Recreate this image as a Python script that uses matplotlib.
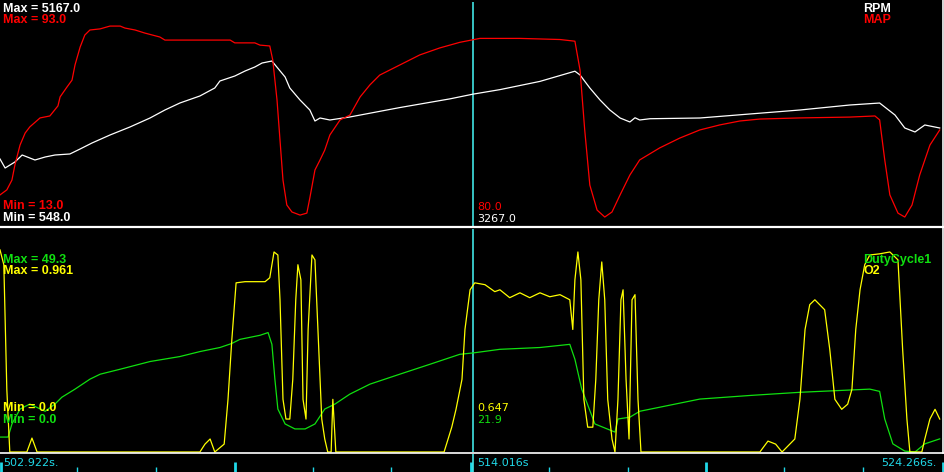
import matplotlib
matplotlib.use("Agg")
import matplotlib.pyplot as plt

# datalog window
t0 = 502.922
t_cursor = 514.016
t_left_label = "502.922s."
t_cursor_label = "514.016s"
t_right_label = "524.266s."
span = 22.08          # seconds shown across the plot

# top panel: RPM (white) / MAP (red)
rpm_min, rpm_max = 548.0, 5167.0
map_min, map_max = 13.0, 93.0
rpm_cursor, map_cursor = 3267.0, 80.0

rpm_t = [0.00, 0.12, 0.35, 0.52, 0.82, 1.06, 1.29, 1.64, 1.88, 2.16, 2.58, 3.05, 3.52,
         3.87, 4.22, 4.69, 5.04, 5.16, 5.51, 5.75, 5.98, 6.15, 6.38, 6.69, 6.80, 7.04,
         7.27, 7.39, 7.51, 7.74, 8.21, 9.38, 10.56, 11.10, 11.73, 12.67, 13.49, 13.61,
         13.84, 14.08, 14.31, 14.55, 14.78, 14.90, 15.01, 15.25, 16.42, 17.60, 18.77,
         19.94, 20.64, 21.00, 21.23, 21.47, 21.70, 22.05]
rpm_v = [1930, 1744, 1868, 2012, 1909, 1971, 2012, 2033, 2136, 2260, 2424, 2590, 2775,
         2940, 3084, 3229, 3394, 3538, 3641, 3744, 3827, 3909, 3950, 3620, 3394, 3146,
         2940, 2713, 2775, 2734, 2796, 2990, 3170, 3267, 3360, 3530, 3740, 3662,
         3394, 3146, 2940, 2775, 2693, 2780, 2734, 2760, 2775, 2858, 2940,
         3043, 3084, 2837, 2569, 2487, 2631, 2569]

map_t = [0.00, 0.16, 0.28, 0.35, 0.47, 0.59, 0.70, 0.94, 1.17, 1.36, 1.41, 1.57, 1.69,
         1.76, 1.88, 1.99, 2.11, 2.35, 2.58, 2.82, 2.93, 3.17, 3.40, 3.75, 3.87, 5.40,
         5.51, 5.98, 6.10, 6.33, 6.40, 6.50, 6.57, 6.64, 6.73, 6.85, 7.04, 7.20, 7.27,
         7.39, 7.51, 7.62, 7.74, 7.98, 8.21, 8.45, 8.68, 8.91, 9.38, 9.85, 10.32, 10.79,
         11.26, 12.20, 13.14, 13.49, 13.61, 13.72, 13.84, 14.01, 14.19, 14.36, 14.55,
         14.78, 15.01, 15.48, 15.95, 16.42, 16.89, 17.36, 17.83, 18.77, 19.94, 20.53,
         20.64, 20.76, 20.88, 21.07, 21.23, 21.40, 21.58, 21.82, 22.05]
map_v = [24.1, 25.9, 29.4, 34.8, 41.9, 46.2, 48.4, 51.6, 52.3, 55.9, 59.1, 62.6, 65.1,
         70.5, 76.9, 81.2, 83.0, 83.4, 84.4, 84.4, 83.7, 83.0, 81.9, 80.5, 79.4, 79.4,
         78.4, 78.4, 77.6, 77.3, 72.3, 58.0, 43.7, 29.4, 20.5, 18.0, 16.9, 17.6, 23.0,
         33.0, 36.6, 40.1, 45.5, 50.9, 52.6, 59.1, 63.4, 66.9, 70.5, 74.1, 76.6, 78.6,
         80.0, 80.0, 79.6, 79.0, 68.7, 47.3, 27.6, 18.7, 16.2, 18.0, 24.1,
         31.2, 36.6, 40.9, 44.4, 47.3, 49.1, 50.5, 51.2, 51.6, 51.9, 52.3,
         50.9, 36.6, 24.1, 17.6, 16.2, 20.5, 31.2, 41.9, 47.3]

# bottom panel: DutyCycle1 (green) / O2 (yellow)
duty_min, duty_max = 0.0, 49.3
o2_min, o2_max = 0.0, 0.961
duty_cursor, o2_cursor = 21.9, 0.647

duty_t = [0.00, 0.19, 0.28, 0.47, 0.70, 1.06, 1.29, 1.45, 1.76, 2.11, 2.35, 2.82, 3.52,
          4.22, 4.69, 5.16, 5.44, 5.63, 6.10, 6.29, 6.38, 6.45, 6.52, 6.69, 6.92, 7.16,
          7.39, 7.62, 7.86, 8.21, 8.68, 9.38, 10.09, 10.79, 11.10, 11.73, 12.67, 13.37,
          13.49, 13.65, 13.96, 14.43, 14.50, 14.78, 15.01, 15.48, 16.42, 17.60, 18.77,
          20.41, 20.64, 20.76, 20.95, 21.23, 21.47, 21.70, 22.05]
duty_v = [3.3, 3.3, 6.2, 9.5, 10.6, 9.0, 10.6, 12.1, 13.9, 16.1, 17.2, 18.3, 20.0,
          21.1, 22.2, 23.1, 24.0, 24.9, 25.8, 26.4, 23.8, 16.1, 9.5, 6.2, 5.1, 5.1,
          6.2, 9.5, 10.6, 12.8, 15.0, 17.2, 19.4, 21.6, 21.9, 22.7, 23.1, 23.8,
          20.5, 13.9, 6.2, 4.4, 7.3, 7.7, 9.0, 9.9, 11.7, 12.5, 13.2,
          13.9, 13.4, 7.3, 1.8, 0.2, 0.0, 1.8, 2.9]

o2_t = [0.00, 0.09, 0.16, 0.23, 0.63, 0.75, 0.87, 4.69, 4.81, 4.93, 5.04, 5.26, 5.35,
        5.44, 5.54, 5.75, 6.22, 6.33, 6.43, 6.52, 6.57, 6.64, 6.71, 6.80, 6.87, 6.94,
        6.99, 7.06, 7.11, 7.18, 7.23, 7.32, 7.39, 7.46, 7.55, 7.62, 7.69, 7.77, 7.81,
        7.88, 10.42, 10.60, 10.70, 10.84, 10.91, 11.03, 11.14, 11.38, 11.61, 11.73,
        11.96, 12.20, 12.43, 12.67, 12.90, 13.14, 13.37, 13.44, 13.49, 13.56, 13.63,
        13.70, 13.79, 13.91, 13.98, 14.05, 14.12, 14.19, 14.26, 14.36, 14.43, 14.50,
        14.57, 14.62, 14.69, 14.76, 14.83, 14.90, 14.97, 15.04, 17.83, 18.02, 18.20,
        18.35, 18.65, 18.77, 18.89, 19.00, 19.12, 19.35, 19.47, 19.59, 19.75, 19.89,
        19.99, 20.08, 20.18, 20.29, 20.41, 20.64, 20.88, 21.07, 21.18, 21.28, 21.35,
        21.63, 21.70, 21.82, 21.94, 22.05]
o2_v = [0.871, 0.807, 0.270, 0.0, 0.0, 0.060, 0.0, 0.0, 0.034, 0.056, 0.0, 0.034, 0.227,
        0.485, 0.729, 0.734, 0.734, 0.751, 0.862, 0.849, 0.656, 0.227, 0.142, 0.142, 0.313, 0.656,
        0.807, 0.742, 0.227, 0.142, 0.528, 0.849, 0.828, 0.528, 0.142, 0.056, 0.0, 0.0, 0.227,
        0.0, 0.0, 0.107, 0.184, 0.313, 0.528, 0.699, 0.729, 0.721, 0.691, 0.699,
        0.665, 0.686, 0.665, 0.686, 0.669, 0.678, 0.656, 0.528, 0.742, 0.862, 0.742,
        0.227, 0.107, 0.107, 0.313, 0.656, 0.819, 0.656, 0.227, 0.056, 0.0, 0.227,
        0.656, 0.699, 0.313, 0.056, 0.656, 0.678, 0.227, 0.0, 0.0, 0.047, 0.034,
        0.0, 0.056, 0.227, 0.528, 0.635, 0.656, 0.613, 0.442, 0.227, 0.184, 0.206,
        0.270, 0.528, 0.699, 0.807, 0.849, 0.854, 0.862, 0.828, 0.442, 0.142, 0.0,
        0.0, 0.056, 0.142, 0.184, 0.142]

# time ruler ticks (seconds from t0)
major_ticks = [0.02, 5.51, 11.05, 16.56, 22.12]
minor_ticks = [1.81, 3.66, 7.34, 9.17, 12.88, 14.73, 18.39, 20.25]

RED = '#ff0000'
WHITE = '#ffffff'
GREEN = '#10e010'
YELLOW = '#ffff00'
CYAN = '#20d8e8'
CURSOR = '#40e4e4'

W, H = 944, 472
fig = plt.figure(figsize=(W / 100, H / 100), dpi=100, facecolor='black')


def px_axes(x0, y0, x1, y1):
    ax = fig.add_axes([x0 / W, 1 - y1 / H, (x1 - x0) / W, (y1 - y0) / H])
    ax.set_facecolor('black')
    ax.set_axis_off()
    return ax


tt = lambda rel: [t0 + r for r in rel]

# top panel
ax_rpm = px_axes(0, 2, 941, 226)
ax_rpm.set_xlim(t0, t0 + span)
ax_rpm.set_ylim(rpm_min, rpm_max)
ax_rpm.axvline(t_cursor, color=CURSOR, lw=1.2)
ax_map = ax_rpm.twinx()
ax_map.set_axis_off()
ax_map.set_ylim(map_min, map_max)
ax_rpm.plot(tt(rpm_t), rpm_v, color=WHITE, lw=0.9)
ax_map.plot(tt(map_t), map_v, color=RED, lw=0.9)

# bottom panel
ax_duty = px_axes(0, 229, 941, 452)
ax_duty.set_xlim(t0, t0 + span)
ax_duty.set_ylim(duty_min, duty_max)
ax_duty.axvline(t_cursor, color=CURSOR, lw=1.2)
ax_o2 = ax_duty.twinx()
ax_o2.set_axis_off()
ax_o2.set_ylim(o2_min, o2_max)
ax_duty.plot(tt(duty_t), duty_v, color=GREEN, lw=0.9, clip_on=False)
ax_o2.plot(tt(o2_t), o2_v, color=YELLOW, lw=0.9, clip_on=False)

# time ruler
ax_time = px_axes(0, 454, 944, 472)
ax_time.set_xlim(t0, t0 + span * 944 / 941)
ax_time.set_ylim(0, 18)
ax_time.vlines(tt(major_ticks), 0, 10, color=CYAN, lw=2)
ax_time.vlines(tt(minor_ticks), 0, 5, color=CYAN, lw=1)
ax_time.axvline(t_cursor, color=CURSOR, lw=1.2)

# overlay in pixel coordinates for frame lines and labels
ov = px_axes(0, 0, W, H)
ov.set_facecolor('none')
ov.set_xlim(0, W)
ov.set_ylim(H, 0)
ov.plot([0, W], [227, 227], color=WHITE, lw=1.6)
ov.plot([0, W], [453, 453], color=WHITE, lw=1.2)
ov.plot([942.5, 942.5], [0, 453], color=WHITE, lw=1.2)

bold = dict(family='Liberation Sans', fontsize=9, fontweight='bold', va='baseline')
thin = dict(family='DejaVu Sans', fontsize=8, va='baseline')

ov.text(3, 12, f"Max = {rpm_max:.1f}", color=WHITE, **bold)
ov.text(3, 23, f"Max = {map_max:.1f}", color=RED, **bold)
ov.text(3, 209, f"Min = {map_min:.1f}", color=RED, **bold)
ov.text(3, 221, f"Min = {rpm_min:.1f}", color=WHITE, **bold)
ov.text(863, 12, "RPM", color=WHITE, **bold)
ov.text(863, 23, "MAP", color=RED, **bold)

ov.text(3, 263, f"Max = {duty_max:.1f}", color=GREEN, **bold)
ov.text(3, 274, f"Max = {o2_max:.3f}", color=YELLOW, **bold)
ov.text(3, 411, f"Min = {o2_min:.1f}", color=YELLOW, **bold)
ov.text(3, 423, f"Min = {duty_min:.1f}", color=GREEN, **bold)
ov.text(863, 263, "DutyCycle1", color=GREEN, **bold)
ov.text(863, 274, "O2", color=YELLOW, **bold)

ov.text(477, 210, f"{map_cursor:.1f}", color=RED, **thin)
ov.text(477, 222, f"{rpm_cursor:.1f}", color=WHITE, **thin)
ov.text(477, 411, f"{o2_cursor:.3f}", color=YELLOW, **thin)
ov.text(477, 423, f"{duty_cursor:.1f}", color=GREEN, **thin)

ov.text(3, 466, t_left_label, color=CYAN, **thin)
ov.text(477, 466, t_cursor_label, color=CYAN, **thin)
ov.text(937, 466, t_right_label, color=CYAN, ha='right', **thin)

fig.savefig('out.png', dpi=100, facecolor='black')
